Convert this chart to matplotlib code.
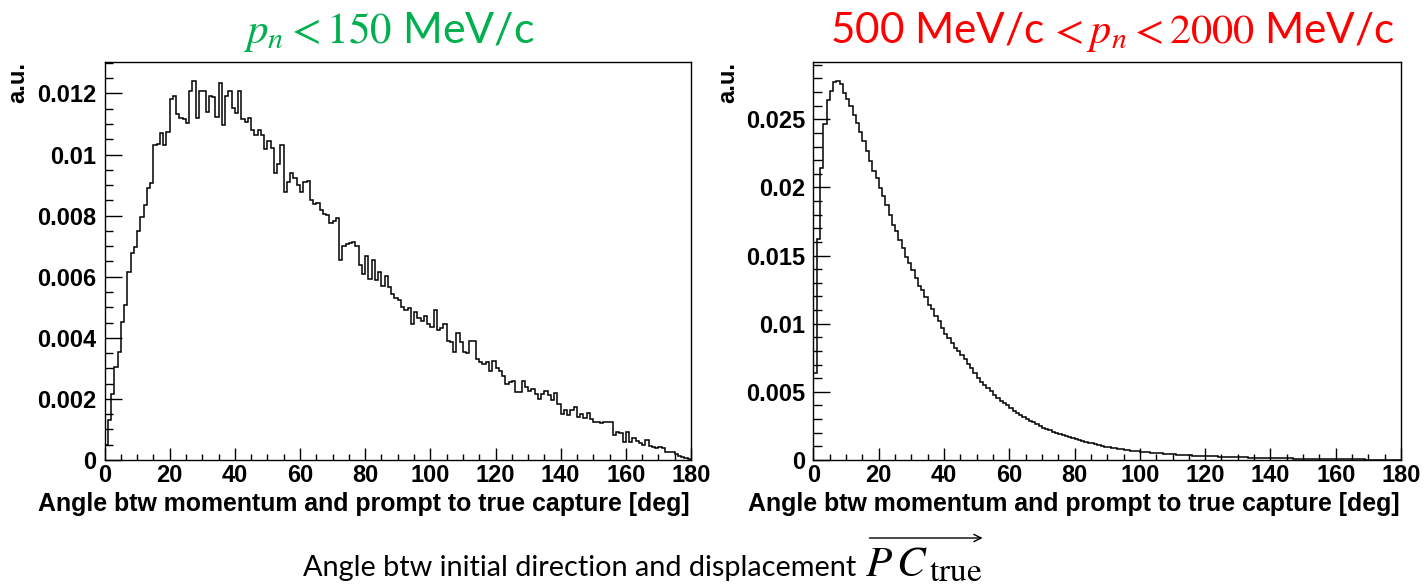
import numpy as np
import matplotlib
matplotlib.use("Agg")
import matplotlib.pyplot as plt
from matplotlib.ticker import MultipleLocator, FuncFormatter
from matplotlib.patches import FancyArrowPatch

# ---------------------------------------------------------------- data
angle_range = (0.0, 180.0)   # degrees, 1-degree bins
scale = 1e-3                 # contents below are in units of 1e-3 a.u.

# p_n < 150 MeV/c
low_p_counts = [
    0.50, 1.30, 2.15, 3.04, 3.52, 4.52, 5.09, 6.15, 6.79, 6.98,
    7.50, 7.97, 8.36, 8.90, 9.07, 10.31, 10.36, 10.69, 10.31, 10.73,
    11.83, 11.92, 11.32, 11.21, 11.15, 11.04, 12.08, 12.41, 11.21, 12.08,
    12.08, 11.40, 11.92, 11.90, 11.24, 12.34, 10.96, 11.92, 12.08, 11.54,
    11.37, 12.08, 11.15, 11.07, 11.21, 10.82, 10.63, 10.82, 10.63, 10.19,
    10.46, 10.22, 9.40, 9.69, 10.31, 8.76, 9.09, 9.40, 9.22, 9.01,
    8.76, 9.09, 9.15, 8.50, 8.39, 8.41, 8.18, 8.06, 8.03, 7.75,
    7.81, 7.92, 6.55, 7.02, 7.07, 7.09, 7.15, 7.02, 6.38, 6.09,
    6.69, 5.91, 6.55, 5.89, 6.16, 5.69, 6.02, 5.65, 5.43, 5.32,
    5.23, 5.01, 4.90, 4.99, 4.44, 4.85, 4.66, 4.54, 4.72, 4.46,
    4.35, 4.90, 4.24, 4.33, 4.46, 3.91, 3.86, 3.53, 4.16, 3.86,
    3.53, 3.50, 3.91, 3.91, 3.31, 3.20, 3.13, 3.20, 2.93, 3.23,
    3.02, 2.93, 2.76, 2.49, 2.54, 2.60, 2.21, 2.21, 2.58, 2.38,
    2.27, 2.32, 2.16, 2.00, 2.16, 2.25, 2.12, 1.98, 2.20, 1.83,
    1.52, 1.63, 1.48, 1.63, 1.75, 1.41, 1.52, 1.36, 1.54, 1.34,
    1.26, 1.23, 1.20, 1.26, 1.23, 1.23, 0.82, 0.92, 0.87, 0.60,
    0.92, 0.60, 0.73, 0.63, 0.55, 0.49, 0.65, 0.46, 0.43, 0.38,
    0.41, 0.38, 0.26, 0.26, 0.26, 0.19, 0.13, 0.10, 0.05, 0.02,
]

# 500 MeV/c < p_n < 2000 MeV/c
high_p_counts = [
    6.37, 16.25, 21.45, 24.63, 26.40, 27.08, 27.75, 27.82, 27.57, 26.96,
    26.52, 25.98, 25.29, 24.75, 24.07, 23.41, 22.67, 21.94, 21.20, 20.71,
    19.98, 19.41, 18.75, 18.01, 17.28, 16.79, 16.18, 15.56, 14.90, 14.46,
    13.97, 13.36, 12.79, 12.50, 11.96, 11.40, 11.08, 10.54, 10.17, 9.68,
    9.26, 8.95, 8.60, 8.25, 7.98, 7.70, 7.40, 7.06, 6.74, 6.37,
    6.03, 5.76, 5.49, 5.27, 5.05, 4.80, 4.56, 4.34, 4.17, 4.00,
    3.80, 3.63, 3.46, 3.31, 3.16, 3.01, 2.89, 2.77, 2.65, 2.50,
    2.38, 2.28, 2.18, 2.08, 2.01, 1.94, 1.86, 1.76, 1.69, 1.62,
    1.54, 1.47, 1.40, 1.35, 1.27, 1.23, 1.15, 1.10, 1.05, 0.98,
    0.93, 0.88, 0.86, 0.81, 0.78, 0.74, 0.71, 0.69, 0.66, 0.64,
    0.61, 0.59, 0.56, 0.54, 0.52, 0.49, 0.48, 0.46, 0.45, 0.43,
    0.42, 0.40, 0.38, 0.37, 0.35, 0.34, 0.33, 0.32, 0.31, 0.30,
    0.29, 0.28, 0.27, 0.26, 0.25, 0.25, 0.24, 0.23, 0.22, 0.21,
    0.20, 0.20, 0.19, 0.18, 0.18, 0.17, 0.17, 0.16, 0.16, 0.15,
    0.15, 0.14, 0.14, 0.13, 0.13, 0.12, 0.12, 0.11, 0.10, 0.10,
    0.09, 0.09, 0.08, 0.08, 0.08, 0.07, 0.07, 0.07, 0.06, 0.06,
    0.06, 0.05, 0.05, 0.05, 0.05, 0.04, 0.04, 0.04, 0.04, 0.03,
    0.03, 0.03, 0.03, 0.03, 0.02, 0.02, 0.02, 0.02, 0.02, 0.01,
]

x_title = "Angle btw momentum and prompt to true capture [deg]"
y_title = "a.u."
title_low = r"$p_n < 150$ MeV/c"
title_high = r"500 MeV/c$\,< p_n < 2000$ MeV/c"
caption_plain = "Angle btw initial direction and displacement"
caption_vec = r"$P\,C$"
caption_sub = r"$\mathrm{true}$"

# ---------------------------------------------------------------- style
plt.rcParams["font.family"] = ["Liberation Sans", "DejaVu Sans"]
plt.rcParams["axes.linewidth"] = 1.0

W, H = 1425, 588
fig = plt.figure(figsize=(W / 100, H / 100), dpi=100)
fig.patch.set_facecolor("white")


def fx(px):
    return px / W


def fy(py):
    return 1.0 - py / H


def add_axes_px(x0, x1, y0, y1):
    return fig.add_axes([fx(x0), fy(y1), (x1 - x0) / W, (y1 - y0) / H])


def draw_hist(ax, counts, ymajor, yminor, yminor_len):
    vals = np.asarray(counts, dtype=float) * scale
    edges = np.linspace(angle_range[0], angle_range[1], len(vals) + 1)
    ax.stairs(vals, edges, baseline=0, color="black", lw=1.1)
    ax.set_xlim(*angle_range)
    ax.set_ylim(0, vals.max() * 1.05)
    ax.xaxis.set_major_locator(MultipleLocator(20))
    ax.xaxis.set_minor_locator(MultipleLocator(5))
    ax.yaxis.set_major_locator(MultipleLocator(ymajor))
    ax.yaxis.set_minor_locator(MultipleLocator(yminor))
    ax.yaxis.set_major_formatter(FuncFormatter(lambda v, p: f"{v:g}"))
    ax.xaxis.set_major_formatter(FuncFormatter(lambda v, p: f"{v:g}"))
    ax.tick_params(which="both", direction="in", top=False, right=False,
                   width=1.0, labelsize=17)
    ax.tick_params(axis="x", which="major", length=8.6, pad=3)
    ax.tick_params(axis="x", which="minor", length=4.3)
    ax.tick_params(axis="y", which="major", length=12.2, pad=6)
    ax.tick_params(axis="y", which="minor", length=yminor_len)


# histogram frames use bold ROOT-like tick labels
with plt.rc_context({"font.weight": "bold"}):
    ax_low = add_axes_px(104.5, 691, 62, 460)
    draw_hist(ax_low, low_p_counts, 0.002, 0.0005, 5.8)
    ax_high = add_axes_px(813.5, 1401, 62, 460)
    draw_hist(ax_high, high_p_counts, 0.005, 0.001, 6.5)
    fig.canvas.draw()
    for ax in (ax_low, ax_high):
        for lab in ax.get_xticklabels() + ax.get_yticklabels():
            lab.set_fontweight("bold")

renderer = fig.canvas.get_renderer()


def fit_width(t, target_px):
    w = t.get_window_extent(renderer).width
    t.set_fontsize(t.get_fontsize() * target_px / w)


# axis titles (x title right-aligned, y title at the top)
for right_px, left_px in ((690, 36), (1400, 745)):
    t = fig.text(fx(right_px), fy(511), x_title, ha="right", va="baseline",
                 fontsize=17, fontweight="bold")
    fit_width(t, right_px - left_px)

for xc in (18, 728):
    fig.text(fx(xc), fy(62), y_title, rotation=90, ha="center", va="top",
             fontsize=17, fontweight="bold")

# panel headings
head_font = ["Lato", "DejaVu Sans"]
t1 = fig.text(fx(389), fy(43), title_low, ha="center", va="baseline",
              color="#00b050", fontsize=28, family=head_font,
              fontweight="normal", math_fontfamily="stix")
fit_width(t1, 292)
t2 = fig.text(fx(1112), fy(43), title_high, ha="center", va="baseline",
              color="#ff0000", fontsize=28, family=head_font,
              fontweight="normal", math_fontfamily="stix")
fit_width(t2, 565)

# caption with the vector arrow over PC_true
cap = fig.text(fx(303), fy(576), caption_plain, ha="left", va="baseline",
               fontsize=28, family=head_font, fontweight="normal")
fit_width(cap, 555)
cap_bb = cap.get_window_extent(renderer)
mx0 = cap_bb.x1 + 9
vec = fig.text(mx0 / W, fy(576), caption_vec, ha="left", va="baseline",
               fontsize=31, family=head_font,
               fontweight="normal", math_fontfamily="stix")
vb = vec.get_window_extent(renderer)
sub = fig.text((vb.x1 + 1) / W, fy(581), caption_sub, ha="left",
               va="baseline", fontsize=24, family=head_font,
               fontweight="normal", math_fontfamily="stix")
sb = sub.get_window_extent(renderer)
arrow_y = vb.y1 + 7
arrow = FancyArrowPatch((vb.x0 / W + 0.001, arrow_y / H),
                        (sb.x1 / W + 0.002, arrow_y / H),
                        transform=fig.transFigure, arrowstyle="->",
                        mutation_scale=13, lw=1.0, color="black")
fig.add_artist(arrow)

fig.savefig("out.png", dpi=100, facecolor="white")
